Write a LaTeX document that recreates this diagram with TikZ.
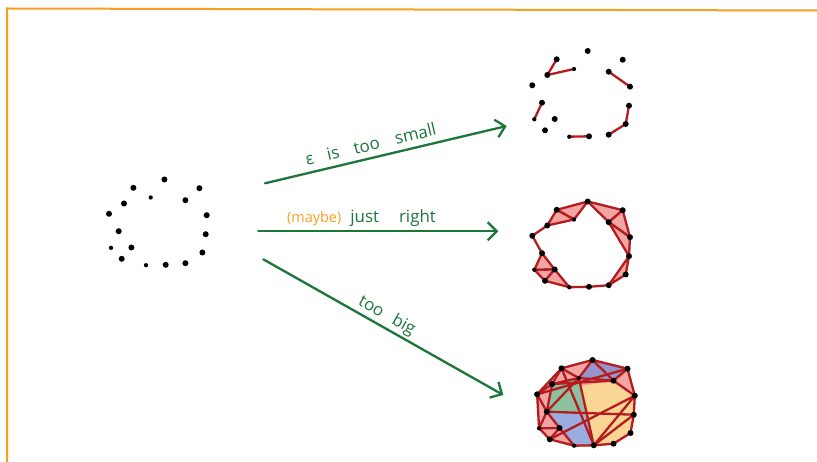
\documentclass[tikz,border=0pt]{standalone}
\usepackage{fontspec}
\setmainfont{Open Sans}
\usetikzlibrary{calc, arrows.meta}

\definecolor{arrowgreen}{RGB}{28,118,58}
\definecolor{frameorange}{RGB}{245,160,30}
\definecolor{edgered}{RGB}{180,28,32}
\definecolor{fillpink}{RGB}{243,165,163}
\definecolor{fillpurple}{RGB}{150,150,205}
\definecolor{fillgreen}{RGB}{140,192,158}
\definecolor{fillblue}{RGB}{155,172,222}
\definecolor{fillyellow}{RGB}{250,214,148}

\begin{document}
\begin{tikzpicture}[
    x=1bp, y=-1bp,
    edge/.style={draw=edgered, line width=2.3bp, line cap=round, line join=round},
    face/.style={fill=fillpink, draw=edgered, line width=2.3bp, line join=round},
    pt/.style={circle, fill=black, inner sep=0pt, minimum size=6bp},
    smallpt/.style={circle, fill=black, inner sep=0pt, minimum size=4.3bp},
    move/.style={draw=arrowgreen, line width=2.3bp, line cap=round,
        -{Straight Barb[length=9bp, width=18bp, line width=2.3bp]}},
    lbl/.style={text=arrowgreen, font=\fontsize{17}{19}\selectfont, inner sep=1bp}
]
    \useasboundingbox (0,0) rectangle (817,462);

    % frame
    \draw[frameorange, line width=2bp] (7,462) -- (7,8.5) -- (817,10.5);

    % point cloud (drawn four times)
    \def\cloudpts{1/587.7/51, 2/556.7/59.3, 3/622.7/59.7, 4/574/69,
        5/608.7/71.7, 6/547.3/75, 7/532.3/85.3, 8/630/86.7, 9/542/102.7,
        10/629/105.7, 11/534.3/119.3, 12/554.7/119, 13/625.7/124,
        14/545/130.3, 15/569.3/136.7, 16/589/136.3, 17/608.7/134.7}

    \foreach \c/\dx/\dy in {L/-423.3/128.5, T/0/0, M/0/150.5, B/4.8/309}{
        \begin{scope}[shift={(\dx,\dy)}]
            \foreach \n/\px/\py in \cloudpts
                \coordinate (\c\n) at (\px,\py);
        \end{scope}
    }

    % arrows
    \coordinate (s1) at (265,183.3);
    \coordinate (e1) at (506.7,126);
    \coordinate (s2) at (258.3,231.3);
    \coordinate (e2) at (498.3,231.3);
    \coordinate (s3) at (263.3,259.3);
    \coordinate (e3) at (503.3,395);

    \draw[move] (s1) -- node[lbl, sloped, above=5bp, pos=0.45]
        {ε\hspace{14bp}is\hspace{15bp}too\hspace{16bp}small} (e1);
    \draw[move] (s2) -- node[lbl, above=3bp, pos=0.43]
        {\textcolor{frameorange}{\fontsize{14.5}{16}\selectfont(maybe)}\hspace{9bp}just\hspace{20bp}right} (e2);
    \draw[move] (s3) -- node[lbl, sloped, above=1bp, pos=0.49]
        {too\hspace{12bp}big} (e3);

    % epsilon too small
    \foreach \a/\b in {2/6, 6/4, 5/8, 9/11, 10/13, 13/17, 15/16}
        \draw[edge] (T\a) -- (T\b);

    % just right
    \foreach \a/\b/\c in {2/1/4, 2/4/6, 1/3/5, 3/5/8, 5/8/10,
                          9/11/12, 11/12/14, 12/14/15, 10/13/17}
        \draw[face] (M\a) -- (M\b) -- (M\c) -- cycle;
    \foreach \a/\b in {6/7, 7/9, 15/16, 16/17}
        \draw[edge] (M\a) -- (M\b);

    % too big
    \coordinate (Bmid) at ($(B4)!0.5!(B16)$);
    \coordinate (Btop) at ($(B4)!0.12!(B16)$);
    \fill[fillpink] (B7) -- (B2) -- (B1) -- (B3) -- (B8) -- (B10) -- (B13)
        -- (B17) -- (B16) -- (B15) -- (B14) -- (B11) -- cycle;
    \fill[fillpurple] (B1) -- (B3) -- (B5) -- (B4) -- cycle;
    \fill[fillgreen] (B6) -- (B4) -- (Bmid) -- (B9) -- cycle;
    \fill[fillblue] (B9) -- (Bmid) -- (B16) -- (B15) -- (B12) -- cycle;
    \fill[fillyellow] (Btop) -- (B5) -- (B8) -- (B10) -- (B13) -- (B17)
        -- (B16) -- cycle;
    \foreach \a/\b in {7/2, 2/1, 1/3, 3/8, 8/10, 10/13, 13/17, 17/16,
                       16/15, 15/14, 14/11, 11/7,
                       2/4, 1/4, 4/6, 2/6, 6/7, 1/5, 3/5, 4/5, 6/5, 5/8,
                       2/16, 4/16, 4/9, 9/10, 14/8, 16/8, 16/10, 7/9,
                       9/11, 9/12, 11/12, 12/14, 12/15, 6/9, 7/3}
        \draw[edge] (B\a) -- (B\b);

    % dots
    \foreach \c in {L,T,M,B}{
        \foreach \n in {1,2,3,5,6,7,8,9,10,12,13,14,16,17}
            \node[pt] (\c dot\n) at (\c\n) {};
        \foreach \n in {4,11,15}
            \node[smallpt] (\c dot\n) at (\c\n) {};
    }
\end{tikzpicture}
\end{document}
